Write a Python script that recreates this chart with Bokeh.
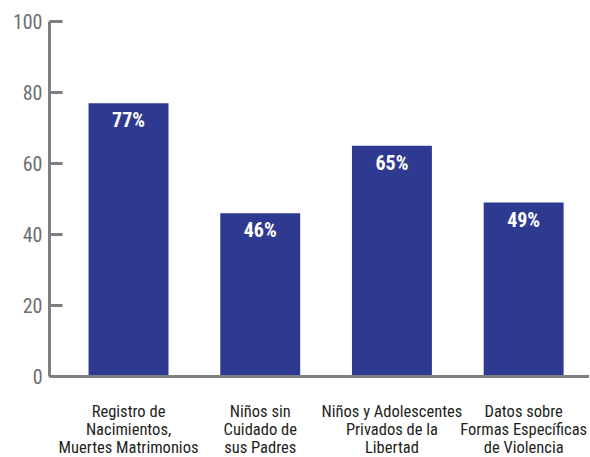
from bokeh.plotting import figure
from bokeh.models import Range1d, FixedTicker, ColumnDataSource, Span
from bokeh.core.properties import value
from bokeh.embed import file_html
from bokeh.resources import INLINE

categories = ["Registro de\nNacimientos,\nMuertes Matrimonios",
              "Niños sin\nCuidado de\nsus Padres",
              "Niños y Adolescentes\nPrivados de la\nLibertad",
              "Datos sobre\nFormas Específicas\nde Violencia"]
values = [77, 46, 65, 49]
value_labels = ["77%", "46%", "65%", "49%"]
y_ticks = [0, 20, 40, 60, 80, 100]

xs = list(range(1, len(categories) + 1))
FONT = "'Roboto Condensed', 'DejaVu Sans Condensed', 'Liberation Sans Narrow', Roboto"
BAR = "#2e3a8f"
AXIS = "#7f7f7f"

p = figure(width=589, height=456, output_backend="svg", toolbar_location=None,
           x_range=Range1d(0.40, 4.50), y_range=Range1d(-22.5, 100),
           min_border_left=49, min_border_top=21, min_border_bottom=0, min_border_right=0)
p.outline_line_color = None
p.grid.visible = False
p.background_fill_color = "white"
p.xaxis.visible = False

src = ColumnDataSource(dict(x=xs, top=values, lab=value_labels))
p.vbar(x="x", top="top", width=0.607, bottom=0, source=src, fill_color=BAR, line_color=None)
p.text(x="x", y="top", text="lab", source=src, y_offset=17, text_align="center",
       text_baseline="middle", text_color="white", text_font=value(FONT),
       text_font_style="bold", text_font_size="20px")

# x axis line at zero
p.add_layout(Span(location=0, dimension="width", line_color=AXIS, line_width=3))

# category labels, one row per text line, below the zero line
lx, ly, lt, lo = [], [], [], []
for x, c in zip(xs, categories):
    for i, line in enumerate(c.split("\n")):
        lx.append(x)
        ly.append(0)
        lt.append(line)
        lo.append(35 + 18 * i)
cat_src = ColumnDataSource(dict(x=lx, y=ly, t=lt, o=lo))
p.text(x="x", y="y", text="t", y_offset="o", source=cat_src,
       text_align="center", text_baseline="middle",
       text_font=value(FONT), text_font_size="16.5px", text_color="#231f20")

ya = p.yaxis[0]
ya.ticker = FixedTicker(ticks=y_ticks)
ya.bounds = (0, 100)
ya.minor_tick_line_color = None
ya.axis_line_color = AXIS
ya.axis_line_width = 3
ya.major_tick_line_color = AXIS
ya.major_tick_line_width = 3
ya.major_tick_in = 13
ya.major_tick_out = 0
ya.major_label_standoff = 7
ya.major_label_text_font = FONT
ya.major_label_text_font_size = "20px"
ya.major_label_text_color = "#6d6e71"

open("out.html", "w").write(file_html(p, INLINE))
